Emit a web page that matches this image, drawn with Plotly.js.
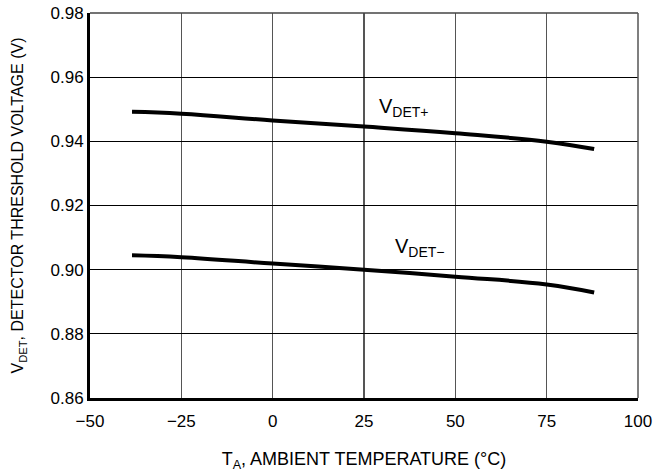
<!DOCTYPE html>
<html>
<head>
<meta charset="utf-8">
<script src="https://cdn.plot.ly/plotly-3.0.1.min.js"></script>
<style>
  html, body { margin: 0; padding: 0; background: #fff; }
  #chart { width: 657px; height: 472px; }
</style>
</head>
<body>
<div id="chart"></div>
<script>
// Ambient temperature (°C) at which the thresholds were sampled
const temperature = [-38.5, -25, 0, 25, 50, 75, 88];
// Rising-edge detector threshold (V)
const vdetPlus = [0.9492, 0.9486, 0.9465, 0.9446, 0.9425, 0.9399, 0.9376];
// Falling-edge detector threshold (V)
const vdetMinus = [0.9045, 0.9039, 0.9019, 0.9000, 0.8978, 0.8954, 0.8929];

const xTicks = [-50, -25, 0, 25, 50, 75, 100];
const yTicks = [0.86, 0.88, 0.90, 0.92, 0.94, 0.96, 0.98];

const FONT = 'Liberation Sans, Arial, Helvetica, sans-serif';

const curveStyle = { color: '#000', width: 4, shape: 'spline', smoothing: 1.2 };

const traces = [
  { x: temperature, y: vdetPlus, mode: 'lines', line: curveStyle, hoverinfo: 'skip' },
  { x: temperature, y: vdetMinus, mode: 'lines', line: curveStyle, hoverinfo: 'skip' }
];

const layout = {
  width: 657,
  height: 472,
  margin: { l: 90, r: 19, t: 13, b: 74 },
  paper_bgcolor: '#fff',
  plot_bgcolor: '#fff',
  showlegend: false,
  font: { family: FONT, size: 17, color: '#000' },
  xaxis: {
    range: [-50, 100],
    tickvals: xTicks,
    ticktext: xTicks.map(v => (v < 0 ? '\u2212' + Math.abs(v) : String(v))),
    ticks: '',
    ticklabelstandoff: 6,
    showgrid: true,
    gridcolor: '#555',
    gridwidth: 1.5,
    zeroline: false,
    showline: true,
    linecolor: '#000',
    linewidth: 3,
    tickfont: { size: 17 },
    title: { text: 'T<sub>A</sub>, AMBIENT TEMPERATURE (°C)', font: { size: 18 }, standoff: 24 }
  },
  yaxis: {
    range: [0.86, 0.98],
    tickvals: yTicks,
    ticktext: yTicks.map(v => v.toFixed(2)),
    ticks: '',
    showgrid: true,
    gridcolor: '#000',
    gridwidth: 1,
    zeroline: false,
    showline: true,
    linecolor: '#000',
    linewidth: 3,
    tickfont: { size: 17 },
    title: { text: 'V<sub>DET</sub>, DETECTOR THRESHOLD VOLTAGE (V)', font: { size: 16 }, standoff: 23 }
  },
  shapes: [
    // top and right frame edges
    { type: 'line', xref: 'paper', yref: 'paper', x0: 0, x1: 1, y0: 1, y1: 1, line: { color: '#444', width: 1.5 } },
    { type: 'line', xref: 'paper', yref: 'paper', x0: 1, x1: 1, y0: 0, y1: 1, line: { color: '#555', width: 1.5 } }
  ],
  annotations: [
    { x: 28.5, y: 0.9505, xref: 'x', yref: 'y', text: 'V<sub>DET+</sub>', showarrow: false,
      xanchor: 'left', yanchor: 'middle', font: { size: 20 } },
    { x: 33, y: 0.9068, xref: 'x', yref: 'y', text: 'V<sub>DET\u2212</sub>', showarrow: false,
      xanchor: 'left', yanchor: 'middle', font: { size: 20 } }
  ]
};

Plotly.newPlot('chart', traces, layout, { staticPlot: true, displayModeBar: false });
</script>
</body>
</html>
